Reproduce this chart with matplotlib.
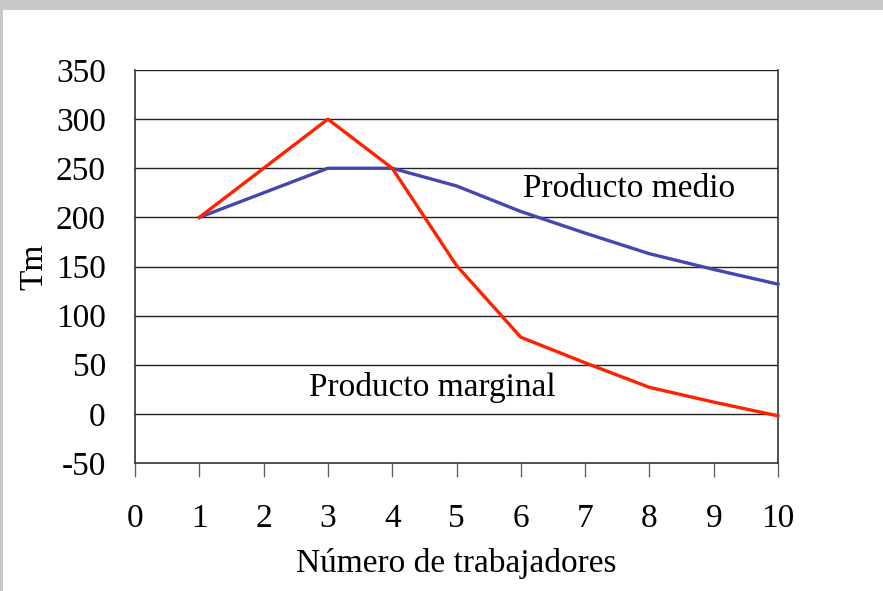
import matplotlib
matplotlib.use("Agg")
import matplotlib.pyplot as plt
from matplotlib.patches import Rectangle

workers = [1, 2, 3, 4, 5, 6, 7, 8, 9, 10]
producto_medio = [200, 225, 250, 250, 232, 206, 184, 163, 147, 132]
producto_marginal = [200, 250, 300, 250, 151, 78, 52, 27, 12, -2]
x_ticks = [0, 1, 2, 3, 4, 5, 6, 7, 8, 9, 10]
y_ticks = [-50, 0, 50, 100, 150, 200, 250, 300, 350]

plt.rcParams['font.family'] = ['Liberation Serif', 'DejaVu Serif']

W, H = 883, 591
fig = plt.figure(figsize=(W / 100, H / 100), dpi=100)
fig.patch.set_facecolor('#c8c8c8')
fig.patches.append(Rectangle((3 / W, 0), 1, (H - 10) / H, transform=fig.transFigure,
                             facecolor='white', edgecolor='none', zorder=-10))

ax = fig.add_axes([135 / W, 1 - 463 / H, (778 - 135) / W, (463 - 70) / H])
ax.set_facecolor('white')

ax.set_xlim(0, 10)
ax.set_ylim(-50, 350)
ax.set_xticks(x_ticks)
ax.set_yticks(y_ticks)
ax.set_xticklabels([str(v) for v in x_ticks], fontsize=24)
ax.set_yticklabels([str(v) for v in y_ticks], fontsize=24)
ax.tick_params(axis='x', direction='out', length=10, width=1, color='#666666', pad=19)
ax.tick_params(axis='y', length=0, pad=21)

for v in y_ticks[1:]:
    ax.axhline(v, color='#222222', lw=1.0, zorder=1)

for s in ['left', 'right', 'bottom', 'top']:
    ax.spines[s].set_color('#333333')
    ax.spines[s].set_linewidth(1.2)
ax.spines['top'].set_visible(False)

ax.plot(workers, producto_medio, color='#4646b0', lw=2.4, zorder=3, clip_on=False)
ax.plot(workers, producto_marginal, color='#ff2200', lw=2.4, zorder=4, clip_on=False)

ax.text(6.03, 229, 'Producto medio', fontsize=24, va='center', ha='left')
ax.text(2.7, 27, 'Producto marginal', fontsize=24, va='center', ha='left')

ax.set_xlabel('Número de trabajadores', fontsize=24, labelpad=10)
ax.set_ylabel('Tm', fontsize=24, labelpad=5)

fig.savefig('out.png', dpi=100, facecolor=fig.get_facecolor())
